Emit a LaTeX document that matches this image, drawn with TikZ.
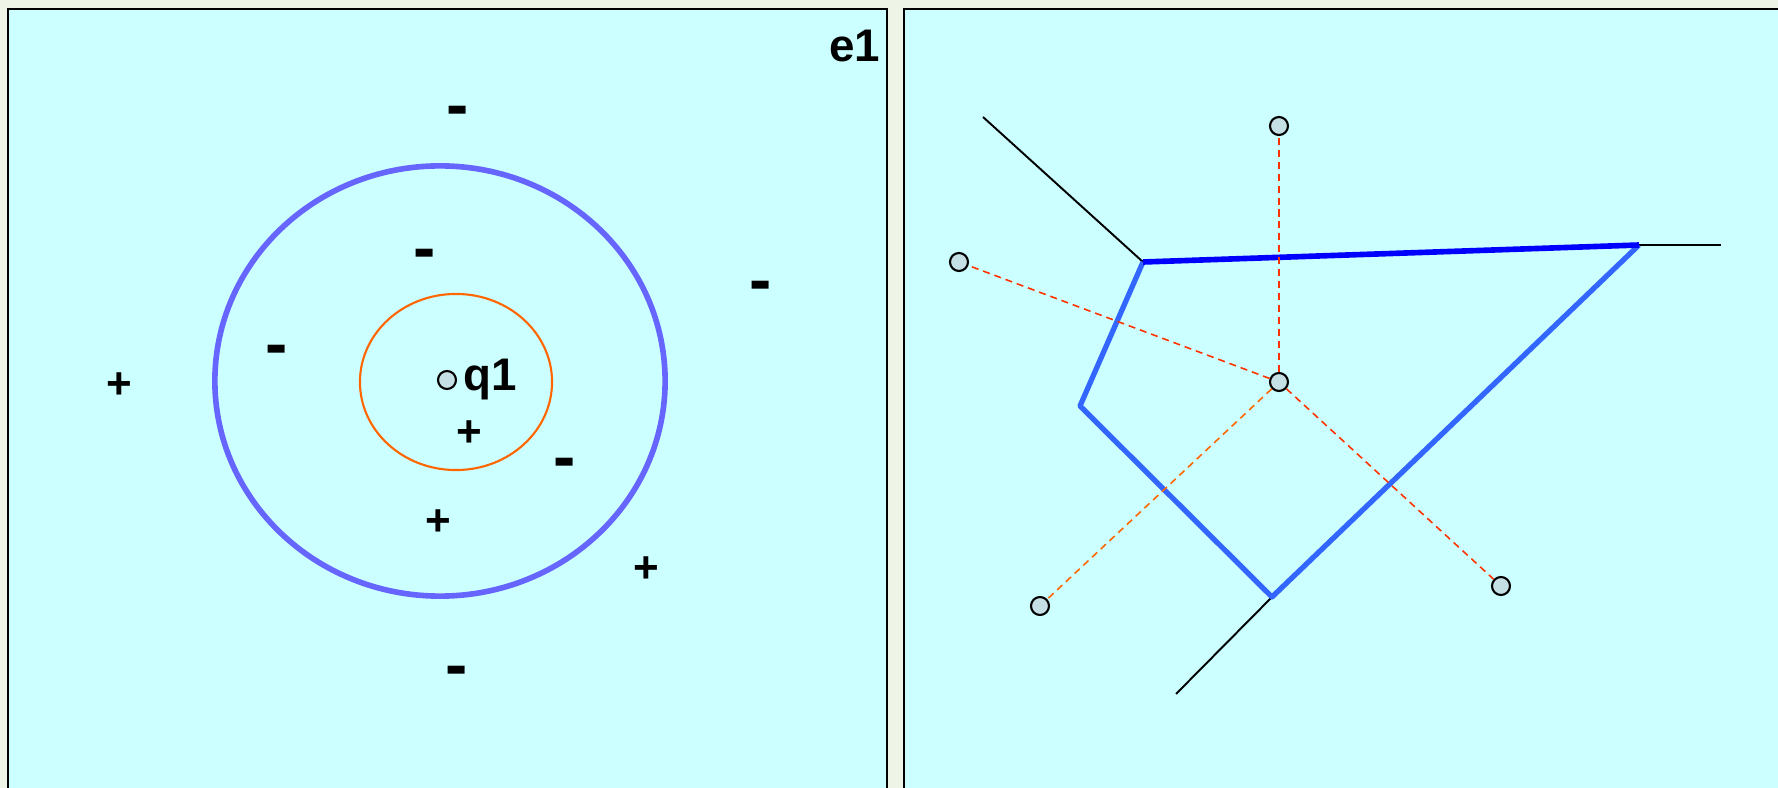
\documentclass[tikz,border=0pt]{standalone}
\usepackage{fontspec}
\setmainfont{Liberation Sans}
\usetikzlibrary{positioning}
\definecolor{PaleBack}{HTML}{EEF5E6}
\definecolor{PanelCyan}{HTML}{CCFFFF}
\definecolor{RingBlue}{HTML}{6666FF}
\definecolor{EdgeBlue}{HTML}{3366FF}
\definecolor{DeepBlue}{HTML}{0000FF}
\definecolor{RingOrange}{HTML}{FF6600}
\definecolor{FireRed}{HTML}{FF3300}
\definecolor{PointFill}{HTML}{C4E0E4}

\begin{document}
\begin{tikzpicture}[x=0.01cm,y=-0.01cm,
    pt/.style={circle,draw,fill=PointFill,line width=0.6pt,minimum size=0.18cm,inner sep=0pt},
    minussign/.style={font=\fontsize{19}{20}\bfseries,inner sep=0pt,yshift=-0.09cm},
    plussign/.style={font=\fontsize{12.5}{14}\bfseries,inner sep=0pt,yshift=-0.03cm},
    dline/.style={line width=0.45pt,dash pattern=on 2pt off 1.4pt}]
  \useasboundingbox (0,0) rectangle (1778,788);
  \fill[PaleBack] (0,0) rectangle (1778,788);
  \filldraw[fill=PanelCyan,line width=0.6pt] (8,788) -- (8,9) -- (887,9) -- (887,788);
  \filldraw[fill=PanelCyan,line width=0.6pt] (904,788) -- (904,9) -- (1790,9) -- (1790,788);

  % left panel
  \node[font=\fontsize{13}{15}\bfseries,anchor=base east,inner sep=0pt] (e1) at (881,62) {e1};
  \draw[RingBlue,line width=1.6pt] (440,381) ellipse [x radius=2.25cm,y radius=2.15cm];
  \draw[RingOrange,line width=0.6pt] (456,382) ellipse [x radius=0.96cm,y radius=0.88cm];
  \node[pt] (q) at (447,380) {};
  \node[font=\fontsize{13}{15}\bfseries,anchor=base west,inner sep=0pt] (qlab) at (463,390) {q1};
  \node[minussign] (m1) at (458,108) {-};
  \node[minussign] (m2) at (425,251) {-};
  \node[minussign] (m3) at (761,283) {-};
  \node[minussign] (m4) at (277,347) {-};
  \node[minussign] (m5) at (565,460) {-};
  \node[minussign] (m6) at (457,668) {-};
  \node[plussign] (s1) at (119,383) {+};
  \node[plussign] (s2) at (469,431) {+};
  \node[plussign] (s3) at (438,520) {+};
  \node[plussign] (s4) at (646,567) {+};

  % right panel
  \coordinate (v1) at (1143,262);
  \coordinate (v2) at (1639,245);
  \coordinate (v3) at (1272,597);
  \coordinate (v4) at (1080,406);
  \coordinate (r1) at (983,117);
  \coordinate (r2) at (1721,245);
  \coordinate (r3) at (1176,694);
  \draw[line width=0.55pt] (r1) -- (v1);
  \draw[line width=0.55pt] (v2) -- (r2);
  \draw[line width=0.55pt] (v3) -- (r3);
  \draw[EdgeBlue,line width=1.5pt,line join=round] (v1) -- (v4) -- (v3) -- (v2);
  \draw[DeepBlue,line width=1.6pt] (v1) -- (v2);

  \node[pt] (p0) at (1279,382) {};
  \node[pt] (p1) at (1279,126) {};
  \node[pt] (p2) at (959,262) {};
  \node[pt] (p3) at (1040,606) {};
  \node[pt] (p4) at (1501,586) {};
  \draw[dline,FireRed] (p0) -- (p1);
  \draw[dline,FireRed] (p0) -- (p2);
  \draw[dline,RingOrange] (p0) -- (p3);
  \draw[dline,FireRed] (p0) -- (p4);
\end{tikzpicture}
\end{document}
